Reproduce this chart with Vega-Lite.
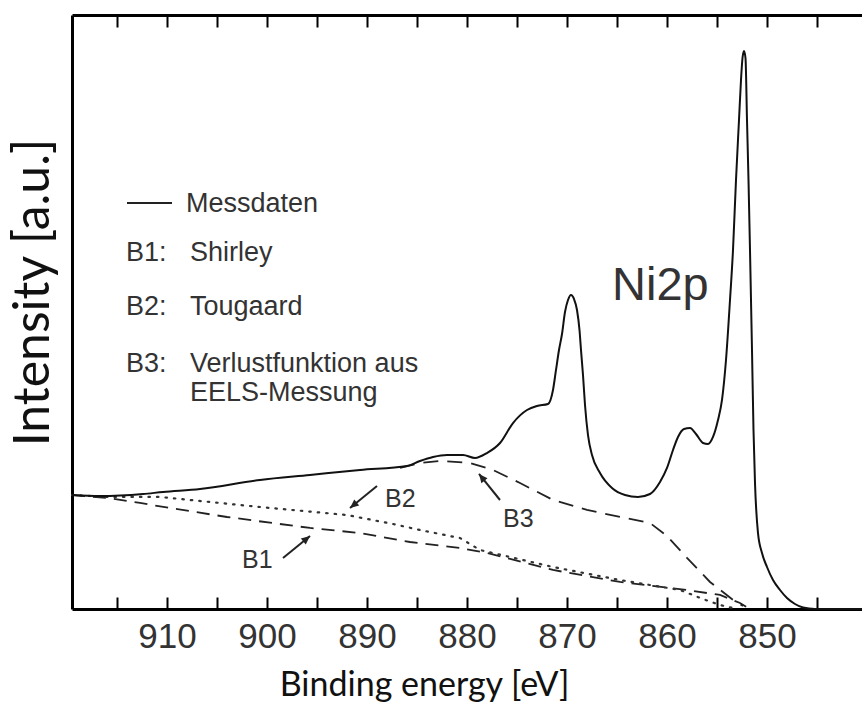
{
  "$schema": "https://vega.github.io/schema/vega-lite/v6.json",
  "width": 790,
  "height": 594,
  "autosize": {"type": "none"},
  "padding": {"left": 72, "top": 15, "right": 0, "bottom": 98},
  "background": "white",
  "config": {
    "view": {"stroke": null},
    "axis": {"domainColor": "#000"}
  },
  "datasets": {
    "spectra": [
      {"curve": "Messdaten", "E": 919.5, "I": 19.19},
      {"curve": "Messdaten", "E": 916.7, "I": 19.02},
      {"curve": "Messdaten", "E": 912.4, "I": 19.36},
      {"curve": "Messdaten", "E": 910.4, "I": 19.7},
      {"curve": "Messdaten", "E": 906.7, "I": 20.2},
      {"curve": "Messdaten", "E": 900.7, "I": 21.72},
      {"curve": "Messdaten", "E": 895.7, "I": 22.56},
      {"curve": "Messdaten", "E": 890.7, "I": 23.4},
      {"curve": "Messdaten", "E": 886.0, "I": 24.07},
      {"curve": "Messdaten", "E": 884.7, "I": 24.92},
      {"curve": "Messdaten", "E": 883.4, "I": 25.59},
      {"curve": "Messdaten", "E": 882.0, "I": 25.93},
      {"curve": "Messdaten", "E": 880.4, "I": 25.93},
      {"curve": "Messdaten", "E": 879.2, "I": 25.42},
      {"curve": "Messdaten", "E": 878.0, "I": 26.26},
      {"curve": "Messdaten", "E": 876.7, "I": 27.95},
      {"curve": "Messdaten", "E": 875.4, "I": 31.31},
      {"curve": "Messdaten", "E": 874.0, "I": 33.5},
      {"curve": "Messdaten", "E": 873.0, "I": 34.18},
      {"curve": "Messdaten", "E": 871.9, "I": 34.51},
      {"curve": "Messdaten", "E": 871.4, "I": 36.87},
      {"curve": "Messdaten", "E": 871.1, "I": 40.24},
      {"curve": "Messdaten", "E": 870.8, "I": 43.6},
      {"curve": "Messdaten", "E": 870.5, "I": 46.3},
      {"curve": "Messdaten", "E": 870.2, "I": 50.0},
      {"curve": "Messdaten", "E": 869.9, "I": 52.02},
      {"curve": "Messdaten", "E": 869.6, "I": 52.86},
      {"curve": "Messdaten", "E": 869.3, "I": 52.19},
      {"curve": "Messdaten", "E": 869.0, "I": 50.34},
      {"curve": "Messdaten", "E": 868.75, "I": 46.97},
      {"curve": "Messdaten", "E": 868.6, "I": 43.6},
      {"curve": "Messdaten", "E": 868.4, "I": 39.39},
      {"curve": "Messdaten", "E": 868.2, "I": 34.34},
      {"curve": "Messdaten", "E": 867.9, "I": 29.29},
      {"curve": "Messdaten", "E": 867.5, "I": 25.93},
      {"curve": "Messdaten", "E": 866.7, "I": 22.9},
      {"curve": "Messdaten", "E": 865.5, "I": 20.37},
      {"curve": "Messdaten", "E": 864.2, "I": 19.19},
      {"curve": "Messdaten", "E": 862.9, "I": 18.86},
      {"curve": "Messdaten", "E": 861.7, "I": 19.36},
      {"curve": "Messdaten", "E": 860.7, "I": 21.38},
      {"curve": "Messdaten", "E": 860.0, "I": 23.74},
      {"curve": "Messdaten", "E": 859.4, "I": 26.77},
      {"curve": "Messdaten", "E": 858.9, "I": 28.96},
      {"curve": "Messdaten", "E": 858.3, "I": 30.3},
      {"curve": "Messdaten", "E": 857.7, "I": 30.47},
      {"curve": "Messdaten", "E": 857.1, "I": 29.46},
      {"curve": "Messdaten", "E": 856.4, "I": 27.95},
      {"curve": "Messdaten", "E": 855.9, "I": 27.78},
      {"curve": "Messdaten", "E": 855.4, "I": 28.96},
      {"curve": "Messdaten", "E": 854.9, "I": 31.82},
      {"curve": "Messdaten", "E": 854.5, "I": 35.19},
      {"curve": "Messdaten", "E": 854.1, "I": 41.92},
      {"curve": "Messdaten", "E": 853.7, "I": 52.02},
      {"curve": "Messdaten", "E": 853.4, "I": 60.44},
      {"curve": "Messdaten", "E": 853.1, "I": 72.22},
      {"curve": "Messdaten", "E": 852.8, "I": 82.32},
      {"curve": "Messdaten", "E": 852.6, "I": 89.06},
      {"curve": "Messdaten", "E": 852.45, "I": 92.76},
      {"curve": "Messdaten", "E": 852.3, "I": 93.94},
      {"curve": "Messdaten", "E": 852.15, "I": 92.76},
      {"curve": "Messdaten", "E": 852.0, "I": 82.32},
      {"curve": "Messdaten", "E": 851.85, "I": 72.22},
      {"curve": "Messdaten", "E": 851.7, "I": 60.44},
      {"curve": "Messdaten", "E": 851.5, "I": 43.6},
      {"curve": "Messdaten", "E": 851.35, "I": 30.13},
      {"curve": "Messdaten", "E": 851.2, "I": 21.21},
      {"curve": "Messdaten", "E": 850.9, "I": 12.79},
      {"curve": "Messdaten", "E": 850.5, "I": 9.43},
      {"curve": "Messdaten", "E": 850.0, "I": 7.07},
      {"curve": "Messdaten", "E": 849.4, "I": 4.88},
      {"curve": "Messdaten", "E": 848.7, "I": 3.2},
      {"curve": "Messdaten", "E": 848.0, "I": 1.85},
      {"curve": "Messdaten", "E": 847.2, "I": 0.84},
      {"curve": "Messdaten", "E": 846.4, "I": 0.25},
      {"curve": "Messdaten", "E": 845.2, "I": 0.0},
      {"curve": "Messdaten", "E": 840.5, "I": 0.0},

      {"curve": "B1", "E": 919.5, "I": 19.19},
      {"curve": "B1", "E": 915.9, "I": 18.69},
      {"curve": "B1", "E": 912.7, "I": 17.85},
      {"curve": "B1", "E": 909.7, "I": 17.0},
      {"curve": "B1", "E": 904.0, "I": 15.49},
      {"curve": "B1", "E": 895.7, "I": 13.64},
      {"curve": "B1", "E": 890.7, "I": 12.79},
      {"curve": "B1", "E": 885.7, "I": 11.28},
      {"curve": "B1", "E": 880.7, "I": 10.27},
      {"curve": "B1", "E": 878.0, "I": 9.43},
      {"curve": "B1", "E": 871.4, "I": 6.57},
      {"curve": "B1", "E": 864.7, "I": 4.55},
      {"curve": "B1", "E": 858.0, "I": 3.2},
      {"curve": "B1", "E": 854.7, "I": 2.36},
      {"curve": "B1", "E": 852.7, "I": 1.01},
      {"curve": "B1", "E": 851.7, "I": 0.0},

      {"curve": "B2", "E": 919.5, "I": 19.19},
      {"curve": "B2", "E": 915.9, "I": 18.86},
      {"curve": "B2", "E": 910.7, "I": 18.86},
      {"curve": "B2", "E": 900.7, "I": 17.17},
      {"curve": "B2", "E": 892.0, "I": 15.82},
      {"curve": "B2", "E": 887.4, "I": 14.31},
      {"curve": "B2", "E": 884.7, "I": 13.3},
      {"curve": "B2", "E": 880.7, "I": 11.95},
      {"curve": "B2", "E": 878.7, "I": 9.93},
      {"curve": "B2", "E": 871.4, "I": 7.07},
      {"curve": "B2", "E": 864.7, "I": 4.88},
      {"curve": "B2", "E": 858.7, "I": 3.2},
      {"curve": "B2", "E": 856.4, "I": 1.68},
      {"curve": "B2", "E": 854.7, "I": 0.67},
      {"curve": "B2", "E": 853.0, "I": 0.0},

      {"curve": "B3", "E": 886.7, "I": 23.74},
      {"curve": "B3", "E": 884.7, "I": 24.58},
      {"curve": "B3", "E": 882.7, "I": 24.92},
      {"curve": "B3", "E": 879.7, "I": 24.58},
      {"curve": "B3", "E": 877.4, "I": 23.4},
      {"curve": "B3", "E": 874.7, "I": 21.21},
      {"curve": "B3", "E": 871.4, "I": 18.35},
      {"curve": "B3", "E": 868.0, "I": 16.67},
      {"curve": "B3", "E": 864.7, "I": 15.49},
      {"curve": "B3", "E": 861.7, "I": 14.48},
      {"curve": "B3", "E": 860.0, "I": 12.29},
      {"curve": "B3", "E": 858.0, "I": 8.59},
      {"curve": "B3", "E": 855.7, "I": 4.55},
      {"curve": "B3", "E": 853.4, "I": 1.52},
      {"curve": "B3", "E": 852.4, "I": 0.51}
    ],
    "legendText": [
      {"text": "Messdaten", "E": 908.1, "I": 66.84},
      {"text": "B1:", "E": 914.1, "I": 58.59},
      {"text": "Shirley", "E": 907.7, "I": 58.59},
      {"text": "B2:", "E": 914.1, "I": 49.49},
      {"text": "Tougaard", "E": 907.7, "I": 49.49},
      {"text": "B3:", "E": 914.1, "I": 39.9},
      {"text": "Verlustfunktion aus", "E": 907.7, "I": 39.9},
      {"text": "EELS-Messung", "E": 907.7, "I": 35.02}
    ],
    "legendLine": [
      {"E0": 914.0, "E1": 909.5, "I": 68.35}
    ],
    "notes": [
      {"text": "B2", "E": 888.2, "I": 17.17},
      {"text": "B1", "E": 902.5, "I": 6.9},
      {"text": "B3", "E": 876.4, "I": 13.8}
    ],
    "arrows": [
      {"label": "B2", "E0": 889.0, "I0": 20.71, "E1": 891.7, "I1": 17.0},
      {"label": "B1", "E0": 898.4, "I0": 8.59, "E1": 895.7, "I1": 12.29},
      {"label": "B3", "E0": 876.7, "I0": 18.35, "E1": 878.8, "I1": 22.73}
    ],
    "peak": [
      {"text": "Ni2p", "E": 865.5, "I": 52.02}
    ]
  },
  "layer": [
    {
      "data": {"name": "spectra"},
      "transform": [{"filter": "datum.curve === 'B1'"}],
      "mark": {"type": "line", "color": "#222", "strokeWidth": 1.8, "strokeDash": [13, 8]},
      "encoding": {
        "x": {
          "field": "E", "type": "quantitative",
          "scale": {"domain": [840.5, 919.5], "reverse": true, "nice": false, "zero": false},
          "axis": {
            "orient": "bottom",
            "values": [915, 910, 905, 900, 895, 890, 885, 880, 875, 870, 865, 860, 855, 850, 845],
            "labelExpr": "datum.value % 10 === 0 ? datum.label : ''",
            "domainWidth": 3,
            "ticks": false,
            "grid": true,
            "gridColor": "#000",
            "gridWidth": 2,
            "gridOpacity": 1,
            "gridDash": [12, 570, 12, 100],
            "labelFont": "Liberation Sans",
            "labelFontSize": 35,
            "labelColor": "#333",
            "labelPadding": 10,
            "labelFlush": false,
            "labelOverlap": false,
            "title": "Binding energy [eV]",
            "titleFont": "Lato",
            "titleFontSize": 34,
            "titleFontWeight": "normal",
            "titleColor": "#111",
            "titleX": 352,
            "titleY": 86,
            "titleAlign": "center",
            "titleBaseline": "alphabetic"
          }
        },
        "y": {
          "field": "I", "type": "quantitative",
          "scale": {"domain": [0, 100], "nice": false, "zero": false},
          "axis": {
            "orient": "left",
            "values": [100],
            "ticks": false,
            "labels": false,
            "domainWidth": 3,
            "grid": true,
            "gridColor": "#000",
            "gridWidth": 3,
            "gridOpacity": 1,
            "title": "Intensity [a.u.]",
            "titleFont": "Lato",
            "titleFontSize": 50,
            "titleFontWeight": "normal",
            "titleColor": "#111",
            "titleAngle": -90,
            "titleX": -24,
            "titleY": 277,
            "titleAlign": "center",
            "titleBaseline": "alphabetic"
          }
        }
      }
    },
    {
      "data": {"name": "spectra"},
      "transform": [{"filter": "datum.curve === 'B2'"}],
      "mark": {"type": "line", "color": "#333", "strokeWidth": 2.2, "strokeDash": [1.5, 7], "strokeCap": "round"},
      "encoding": {
        "x": {"field": "E", "type": "quantitative"},
        "y": {"field": "I", "type": "quantitative"}
      }
    },
    {
      "data": {"name": "spectra"},
      "transform": [{"filter": "datum.curve === 'B3'"}],
      "mark": {"type": "line", "color": "#222", "strokeWidth": 1.8, "strokeDash": [15, 9]},
      "encoding": {
        "x": {"field": "E", "type": "quantitative"},
        "y": {"field": "I", "type": "quantitative"}
      }
    },
    {
      "data": {"name": "spectra"},
      "transform": [{"filter": "datum.curve === 'Messdaten'"}],
      "mark": {"type": "line", "color": "#111", "strokeWidth": 2, "interpolate": "monotone"},
      "encoding": {
        "x": {"field": "E", "type": "quantitative"},
        "y": {"field": "I", "type": "quantitative"}
      }
    },
    {
      "data": {"name": "legendLine"},
      "mark": {"type": "rule", "color": "#222", "strokeWidth": 2},
      "encoding": {
        "x": {"field": "E0", "type": "quantitative"},
        "x2": {"field": "E1"},
        "y": {"field": "I", "type": "quantitative"}
      }
    },
    {
      "data": {"name": "legendText"},
      "mark": {"type": "text", "align": "left", "baseline": "alphabetic", "font": "Liberation Sans", "fontSize": 27, "color": "#333"},
      "encoding": {
        "x": {"field": "E", "type": "quantitative"},
        "y": {"field": "I", "type": "quantitative"},
        "text": {"field": "text"}
      }
    },
    {
      "data": {"name": "notes"},
      "mark": {"type": "text", "align": "left", "baseline": "alphabetic", "font": "Liberation Sans", "fontSize": 25, "color": "#333"},
      "encoding": {
        "x": {"field": "E", "type": "quantitative"},
        "y": {"field": "I", "type": "quantitative"},
        "text": {"field": "text"}
      }
    },
    {
      "data": {"name": "peak"},
      "mark": {"type": "text", "align": "left", "baseline": "alphabetic", "font": "Liberation Sans", "fontSize": 47, "color": "#333"},
      "encoding": {
        "x": {"field": "E", "type": "quantitative"},
        "y": {"field": "I", "type": "quantitative"},
        "text": {"field": "text"}
      }
    },
    {
      "data": {"name": "arrows"},
      "mark": {"type": "rule", "color": "#222", "strokeWidth": 2},
      "encoding": {
        "x": {"field": "E0", "type": "quantitative"},
        "x2": {"field": "E1"},
        "y": {"field": "I0", "type": "quantitative"},
        "y2": {"field": "I1"}
      }
    },
    {
      "data": {"name": "arrows"},
      "transform": [{"filter": "datum.label === 'B2'"}],
      "mark": {"type": "point", "shape": "M0,0L-0.45,1L0.45,1Z", "filled": true, "color": "#222", "opacity": 1, "size": 300, "angle": 231},
      "encoding": {
        "x": {"field": "E1", "type": "quantitative"},
        "y": {"field": "I1", "type": "quantitative"}
      }
    },
    {
      "data": {"name": "arrows"},
      "transform": [{"filter": "datum.label === 'B1'"}],
      "mark": {"type": "point", "shape": "M0,0L-0.45,1L0.45,1Z", "filled": true, "color": "#222", "opacity": 1, "size": 300, "angle": 51},
      "encoding": {
        "x": {"field": "E1", "type": "quantitative"},
        "y": {"field": "I1", "type": "quantitative"}
      }
    },
    {
      "data": {"name": "arrows"},
      "transform": [{"filter": "datum.label === 'B3'"}],
      "mark": {"type": "point", "shape": "M0,0L-0.45,1L0.45,1Z", "filled": true, "color": "#222", "opacity": 1, "size": 300, "angle": 321},
      "encoding": {
        "x": {"field": "E1", "type": "quantitative"},
        "y": {"field": "I1", "type": "quantitative"}
      }
    }
  ]
}
